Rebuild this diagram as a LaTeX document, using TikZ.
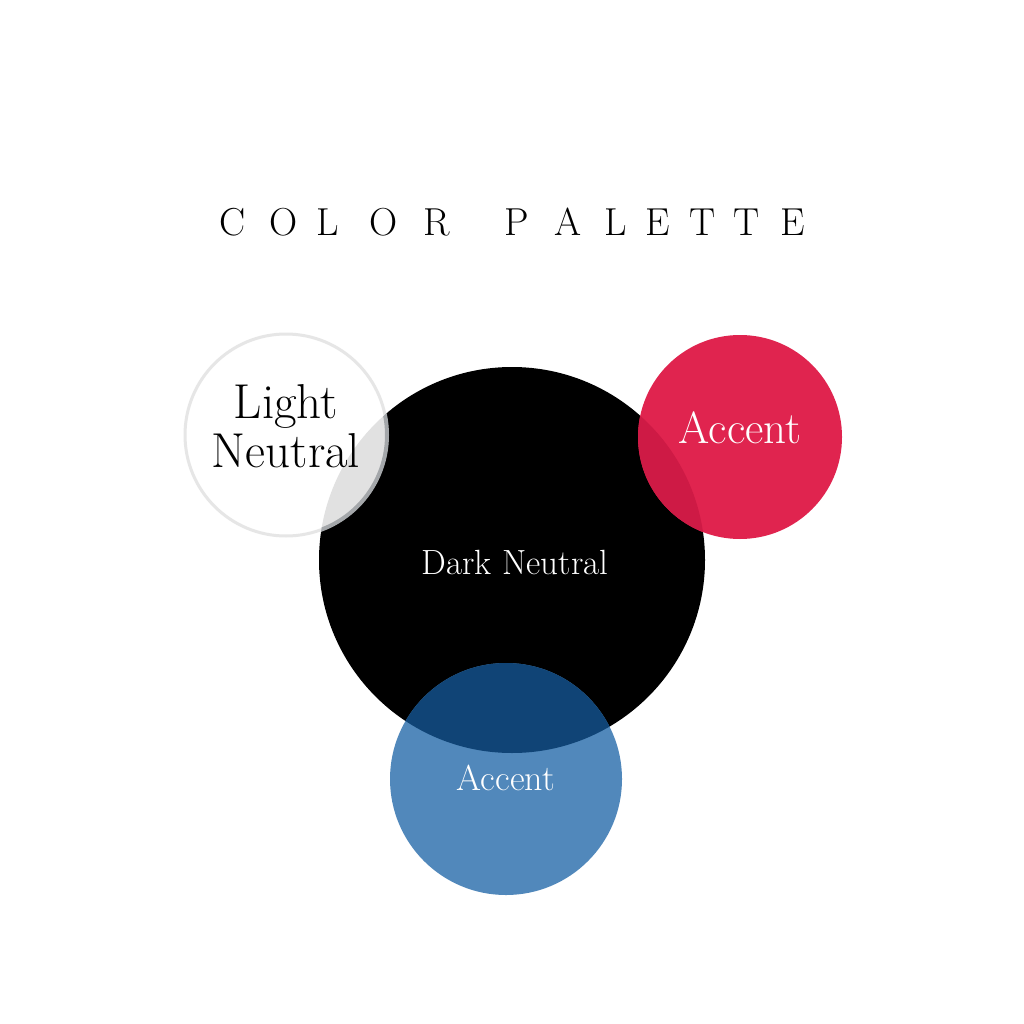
\documentclass[tikz,border=0pt]{standalone}
\usepackage{fontspec}
\usepackage{tikz}

\definecolor{accentred}{RGB}{224,36,79}
\definecolor{redover}{RGB}{206,26,69}
\definecolor{accentblue}{RGB}{81,136,187}
\definecolor{blueover}{RGB}{16,68,118}
\definecolor{lightover}{RGB}{225,225,225}
\definecolor{ringlight}{RGB}{230,230,230}
\definecolor{ringdark}{RGB}{164,167,170}

\begin{document}
\begin{tikzpicture}[x=1pt, y=-1pt,
  disc/.style={circle, inner sep=0pt, outer sep=0pt},
  letter/.style={anchor=base, font=\fontsize{39}{39}\selectfont},
  label/.style={anchor=base, white}]

\useasboundingbox[fill=white] (0,0) rectangle (1024,1024);

% title, one letter at a time
\foreach \ch/\x in {C/233, O/284, L/328, O/384, R/437, P/517, A/568, L/616, E/658, T/703, T/747, E/793}
\node[letter] (t\x) at (\x, 236) {\ch};

\node[disc, fill=black, minimum size=386pt] (dark) at (512,560) {};
\node[disc, fill=white, draw=ringlight, line width=3pt, minimum size=202pt] (light) at (286,435) {};
\node[disc, fill=accentred, minimum size=204pt] (red) at (740,437) {};
\node[disc, fill=accentblue, minimum size=232pt] (blue) at (506,779) {};

% overlaps
\begin{scope}
\clip (dark.center) circle[radius=193];
\fill[lightover] (light.center) circle[radius=101];
\draw[ringdark, line width=4pt] (light.center) circle[radius=101];
\fill[redover] (red.center) circle[radius=102];
\fill[blueover] (blue.center) circle[radius=116];
\end{scope}

\node[anchor=base, align=center, font=\fontsize{49}{49}\selectfont] (lighttext) at (286,467) {Light\\Neutral};
\node[label, font=\fontsize{45}{45}\selectfont] (redtext) at (740,443) {Accent};
\node[label, font=\fontsize{35}{35}\selectfont] (darktext) at (515,574) {Dark Neutral};
\node[label, font=\fontsize{36}{36}\selectfont] (bluetext) at (506,790) {Accent};

\end{tikzpicture}
\end{document}
